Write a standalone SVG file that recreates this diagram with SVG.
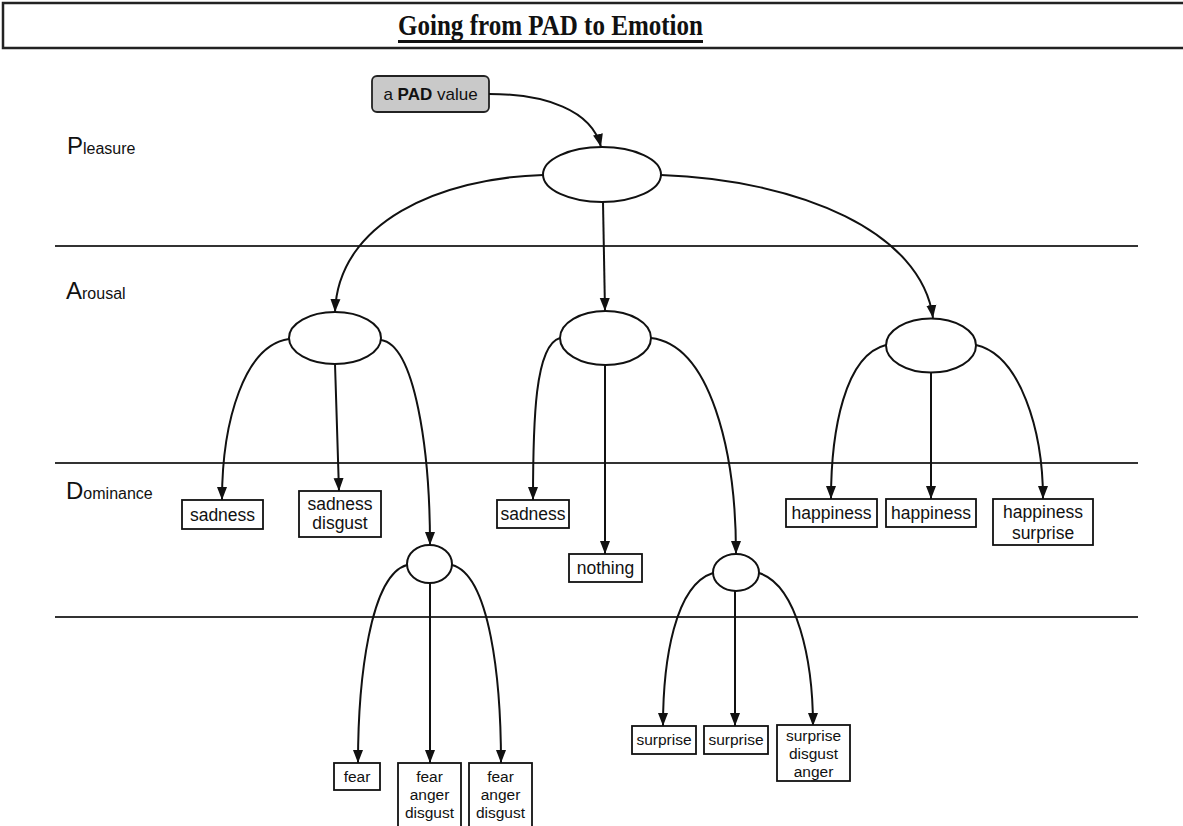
<svg xmlns="http://www.w3.org/2000/svg" width="1183" height="826" viewBox="0 0 1183 826">
<style>
.t{font-family:"Liberation Sans",Arial,sans-serif;fill:#111;text-anchor:middle}
.lb{font-size:17.5px}
.ls{font-size:15.5px}
.box{fill:#fff;stroke:#111;stroke-width:1.8}
.ell{fill:#fff;stroke:#111;stroke-width:2}
.hl{stroke:#333;stroke-width:1.8}
.cn{fill:none;stroke:#111;stroke-width:2}
.big{font-family:"Liberation Sans",Arial,sans-serif;font-size:24px;fill:#111}
.sm{font-size:16px}
</style>
<defs>
<marker id="ah" markerUnits="userSpaceOnUse" markerWidth="13" markerHeight="12" viewBox="0 0 13 10" refX="13" refY="5" orient="auto">
<path d="M0,0 L13,5 L0,10 Z" fill="#111"/>
</marker>
</defs>
<rect width="1183" height="826" fill="#fff"/>
<g id="title">
<path d="M1190,3 L3,3 L3,48 L1190,48" fill="none" stroke="#222" stroke-width="2.5"/>
<text x="398" y="35" text-anchor="start" font-family="'Liberation Serif','Times New Roman',serif" font-weight="bold" font-size="29" fill="#111" textLength="305" lengthAdjust="spacingAndGlyphs">Going from PAD to Emotion</text>
<rect x="398" y="40" width="305" height="3" fill="#111"/>
</g>
<g id="levels">
<line class="hl" x1="55" y1="246" x2="1138" y2="246"/>
<line class="hl" x1="55" y1="463" x2="1138" y2="463"/>
<line class="hl" x1="55" y1="617" x2="1138" y2="617"/>
<text class="big" x="67" y="154">P<tspan class="sm">leasure</tspan></text>
<text class="big" x="66" y="299">A<tspan class="sm">rousal</tspan></text>
<text class="big" x="66" y="499">D<tspan class="sm">ominance</tspan></text>
</g>
<g id="start">
<rect x="372" y="76" width="117" height="36" rx="5" fill="#c9c9c9" stroke="#222" stroke-width="1.8"/>
<text class="t" x="430.5" y="100" font-size="17">a <tspan font-weight="bold">PAD</tspan> value</text>
</g>
<g id="connectors">
<path class="cn" marker-end="url(#ah)" d="M489,94 C545,94 592,110 601,147"/>
<path class="cn" marker-end="url(#ah)" d="M543,175 C440,178 338,222 335,312"/>
<path class="cn" marker-end="url(#ah)" d="M603,202 L605,311"/>
<path class="cn" marker-end="url(#ah)" d="M661,175 C800,180 922,232 933,318"/>
<path class="cn" marker-end="url(#ah)" d="M289,339 C245,345 222,420 222,500"/>
<path class="cn" marker-end="url(#ah)" d="M335,364 L339,491"/>
<path class="cn" marker-end="url(#ah)" d="M381,340 C415,345 430,450 430,545"/>
<path class="cn" marker-end="url(#ah)" d="M407,565 C370,575 358,680 358,763"/>
<path class="cn" marker-end="url(#ah)" d="M430,583 L430,763"/>
<path class="cn" marker-end="url(#ah)" d="M452,565 C490,575 501,680 501,763"/>
<path class="cn" marker-end="url(#ah)" d="M560,338 C535,345 533,420 533,500"/>
<path class="cn" marker-end="url(#ah)" d="M605,365 L605,554"/>
<path class="cn" marker-end="url(#ah)" d="M651,338 C710,345 736,450 736,554"/>
<path class="cn" marker-end="url(#ah)" d="M713,573 C675,585 663,660 663,726"/>
<path class="cn" marker-end="url(#ah)" d="M735,591 L735,726"/>
<path class="cn" marker-end="url(#ah)" d="M759,573 C797,585 813,660 813,726"/>
<path class="cn" marker-end="url(#ah)" d="M886,345 C845,355 831,430 831,499"/>
<path class="cn" marker-end="url(#ah)" d="M931,373 L931,499"/>
<path class="cn" marker-end="url(#ah)" d="M976,345 C1020,355 1043,430 1043,499"/>
</g>
<g id="p-node"><ellipse class="ell" cx="602" cy="174.5" rx="59" ry="27.5"/></g>
<g id="a-left"><ellipse class="ell" cx="335" cy="338" rx="46" ry="26"/></g>
<g id="a-mid"><ellipse class="ell" cx="605.5" cy="338" rx="45.5" ry="27"/></g>
<g id="a-right"><ellipse class="ell" cx="931" cy="345.5" rx="45" ry="27"/></g>
<g id="d-left"><ellipse class="ell" cx="429.5" cy="564" rx="22.5" ry="19"/></g>
<g id="d-mid"><ellipse class="ell" cx="736" cy="572.5" rx="23" ry="18.5"/></g>
<g id="b-sadness1"><rect class="box" x="182" y="500" width="81" height="29"/><text class="t lb" x="222.5" y="521">sadness</text></g>
<g id="b-sadness-disgust"><rect class="box" x="299" y="491" width="82" height="46"/><text class="t lb" x="340" y="510">sadness</text><text class="t lb" x="340" y="529">disgust</text></g>
<g id="b-fear"><rect class="box" x="334" y="763" width="46" height="27"/><text class="t ls" x="357" y="782">fear</text></g>
<g id="b-fad1"><rect class="box" x="398" y="763" width="63" height="66"/><text class="t ls" x="429.5" y="782">fear</text><text class="t ls" x="429.5" y="800">anger</text><text class="t ls" x="429.5" y="818">disgust</text></g>
<g id="b-fad2"><rect class="box" x="469" y="763" width="63" height="66"/><text class="t ls" x="500.5" y="782">fear</text><text class="t ls" x="500.5" y="800">anger</text><text class="t ls" x="500.5" y="818">disgust</text></g>
<g id="b-sadness2"><rect class="box" x="497" y="500" width="72" height="28"/><text class="t lb" x="533" y="520">sadness</text></g>
<g id="b-nothing"><rect class="box" x="569" y="554" width="73" height="28"/><text class="t lb" x="605.5" y="574">nothing</text></g>
<g id="b-surprise1"><rect class="box" x="632" y="726" width="64" height="28"/><text class="t ls" x="664" y="745">surprise</text></g>
<g id="b-surprise2"><rect class="box" x="704" y="726" width="64" height="28"/><text class="t ls" x="736" y="745">surprise</text></g>
<g id="b-sda"><rect class="box" x="777" y="725" width="73" height="56"/><text class="t ls" x="813.5" y="741">surprise</text><text class="t ls" x="813.5" y="759">disgust</text><text class="t ls" x="813.5" y="777">anger</text></g>
<g id="b-happiness1"><rect class="box" x="786" y="499" width="91" height="28"/><text class="t lb" x="831.5" y="519">happiness</text></g>
<g id="b-happiness2"><rect class="box" x="886" y="499" width="90" height="28"/><text class="t lb" x="931" y="519">happiness</text></g>
<g id="b-happiness-surprise"><rect class="box" x="993" y="499" width="100" height="46"/><text class="t lb" x="1043" y="518">happiness</text><text class="t lb" x="1043" y="539">surprise</text></g>
</svg>
